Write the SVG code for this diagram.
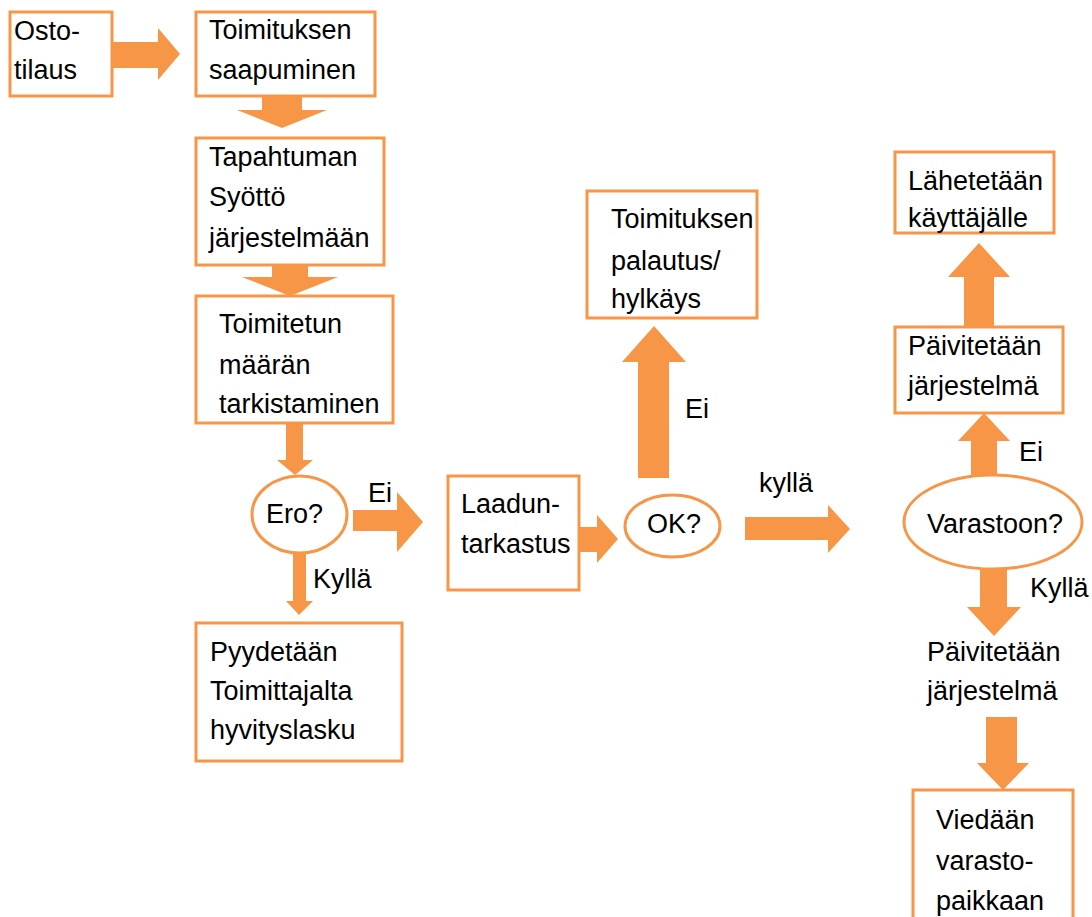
<svg xmlns="http://www.w3.org/2000/svg" width="1092" height="917" viewBox="0 0 1092 917">
<style>
.box{fill:#fff;stroke:#F79646;stroke-width:3}
.arr{fill:#F79646}
text{font-family:"Liberation Sans",Arial,sans-serif;font-size:27px;fill:#000}
</style>
<rect width="1092" height="917" fill="#fff"/>
<g id="connectors">
<polygon class="arr" points="113,42 158,42 158,28 180,54 158,80 158,68 113,68"/>
<polygon class="arr" points="262,97 302,97 302,110 327,110 282,128 237,110 262,110"/>
<polygon class="arr" points="272,265 308,265 308,277 338,277 290,296 242,277 272,277"/>
<polygon class="arr" points="286,423 303,423 303,460 313,460 295,475 277,460 286,460"/>
<polygon class="arr" points="353,510 397,510 397,492 423,522 397,552 397,531 353,531"/>
<polygon class="arr" points="579,527 597,527 597,515 618,539 597,563 597,552 579,552"/>
<polygon class="arr" points="638,478 638,362 622,362 654,326 686,362 669,362 669,478"/>
<polygon class="arr" points="745,517 828,517 828,505 850,529 828,553 828,540 745,540"/>
<polygon class="arr" points="971,476 971,441 958,441 984,413 1010,441 997,441 997,476"/>
<polygon class="arr" points="964,327 964,277 948,277 979,243 1010,277 994,277 994,327"/>
<polygon class="arr" points="980,566 1007,566 1007,607 1021,607 994,636 967,607 980,607"/>
<polygon class="arr" points="986,717 1017,717 1017,763 1029,763 1003,790 977,763 986,763"/>
<polygon class="arr" points="293,552 306,552 306,601 313,601 299,615 286,601 293,601"/>
<text x="368" y="502">Ei</text>
<text x="313" y="588">Kyllä</text>
<text x="685" y="418">Ei</text>
<text x="759" y="492">kyllä</text>
<text x="1019" y="461">Ei</text>
<text x="1030" y="597">Kyllä</text>
</g>
<g id="n-ostotilaus">
<rect class="box" x="10" y="12" width="102" height="84"/>
<text x="14" y="40">Osto-</text>
<text x="14" y="79">tilaus</text>
</g>
<g id="n-saapuminen">
<rect class="box" x="196" y="12" width="179" height="84"/>
<text x="209" y="39">Toimituksen</text>
<text x="209" y="79">saapuminen</text>
</g>
<g id="n-syotto">
<rect class="box" x="196" y="138" width="188" height="127"/>
<text x="209" y="166">Tapahtuman</text>
<text x="209" y="206">Syöttö</text>
<text x="209" y="247">järjestelmään</text>
</g>
<g id="n-tarkistus">
<rect class="box" x="196" y="296" width="197" height="127"/>
<text x="219" y="333">Toimitetun</text>
<text x="219" y="374">määrän</text>
<text x="219" y="413">tarkistaminen</text>
</g>
<g id="n-ero">
<ellipse class="box" cx="299.5" cy="514.5" rx="47.5" ry="38.5"/>
<text x="266" y="523">Ero?</text>
</g>
<g id="n-hyvityslasku">
<rect class="box" x="196" y="623" width="206" height="138"/>
<text x="210" y="661">Pyydetään</text>
<text x="210" y="700">Toimittajalta</text>
<text x="210" y="739">hyvityslasku</text>
</g>
<g id="n-laatu">
<rect class="box" x="448" y="476" width="131" height="114"/>
<text x="461" y="513">Laadun-</text>
<text x="461" y="553">tarkastus</text>
</g>
<g id="n-ok">
<ellipse class="box" cx="672.5" cy="526" rx="47.5" ry="31"/>
<text x="647" y="533">OK?</text>
</g>
<g id="n-palautus">
<rect class="box" x="587" y="191" width="170" height="127"/>
<text x="611" y="228">Toimituksen</text>
<text x="611" y="270">palautus/</text>
<text x="611" y="308">hylkäys</text>
</g>
<g id="n-varastoon">
<ellipse class="box" cx="993" cy="522" rx="89" ry="47"/>
<text x="927" y="533">Varastoon?</text>
</g>
<g id="n-paivitys1">
<rect class="box" x="895" y="327" width="168" height="86"/>
<text x="908" y="355">Päivitetään</text>
<text x="908" y="395">järjestelmä</text>
</g>
<g id="n-lahetys">
<rect class="box" x="895" y="152" width="159" height="81"/>
<text x="908" y="190">Lähetetään</text>
<text x="908" y="227">käyttäjälle</text>
</g>
<g id="n-paivitys2">
<text x="927" y="661">Päivitetään</text>
<text x="927" y="700">järjestelmä</text>
</g>
<g id="n-viedaan">
<rect class="box" x="913" y="790" width="160" height="140"/>
<text x="936" y="829">Viedään</text>
<text x="936" y="870">varasto-</text>
<text x="936" y="910">paikkaan</text>
</g>
</svg>
